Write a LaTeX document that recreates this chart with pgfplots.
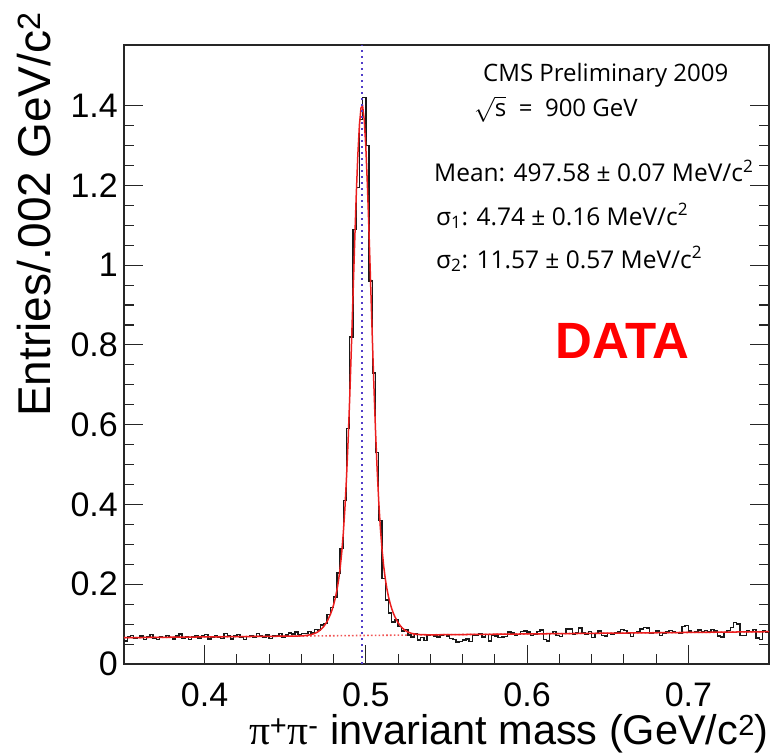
\documentclass[border=0pt]{standalone}
\usepackage{fontspec}
\setmainfont{Liberation Sans}
\newfontfamily\myriad{Open Sans}
\newfontfamily\symb{Liberation Serif}
\usepackage{pgfplots}
\pgfplotsset{compat=1.18}

\definecolor{fitred}{RGB}{235,30,30}
\definecolor{meanblue}{RGB}{80,60,200}

\begin{document}
\begin{tikzpicture}
\begin{axis}[
  scale only axis, width=645pt, height=619pt,
  xmin=0.35, xmax=0.75, ymin=0, ymax=1.552,
  xtick={0.4,0.5,0.6,0.7},
  ytick={0,0.2,0.4,0.6,0.8,1,1.2,1.4},
  minor x tick num=4, minor y tick num=3,
  tick align=inside,
  xtick pos=bottom, ytick pos=both, yticklabel pos=left,
  major tick length=19pt, minor tick length=10pt,
  axis line style={line width=1.1pt, black!85},
  every tick/.style={line width=1.1pt, black!85},
  /pgf/number format/assume math mode=true,
  tick label style={font=\fontsize{34}{40}\selectfont},
  xticklabel style={inner sep=0pt, yshift=-19pt},
  yticklabel style={inner sep=0pt, xshift=-6pt},
  xlabel={{\symb π}\textsuperscript{+}{\symb π}\textsuperscript{-} invariant mass (GeV/c\textsuperscript{2})},
  every axis x label/.style={at={(axis description cs:1,-0.1300)}, anchor=base east,
    inner sep=0pt, font=\fontsize{41.5}{48}\selectfont},
  ylabel={Entries/.002 GeV/c\textsuperscript{2}},
  every axis y label/.style={at={(axis description cs:-0.1147,1.053)}, rotate=90,
    anchor=base east, inner sep=0pt, font=\fontsize{46}{54}\selectfont},
  clip=true,
]
% background component of the fit
\addplot[fitred!75, line width=1.6pt, dash pattern=on 1.6pt off 2.2pt]
  coordinates {(0.35,0.066) (0.75,0.081)};

% data histogram, 2 MeV bins (left edges)
\addplot[const plot mark left, black!90, line width=1.4pt] coordinates {
(0.350,0.058) (0.352,0.069) (0.354,0.072) (0.356,0.064) (0.358,0.066)
(0.360,0.070) (0.362,0.062) (0.364,0.068) (0.366,0.074) (0.368,0.064)
(0.370,0.061) (0.372,0.069) (0.374,0.067) (0.376,0.072) (0.378,0.066)
(0.380,0.063) (0.382,0.070) (0.384,0.075) (0.386,0.065) (0.388,0.069)
(0.390,0.061) (0.392,0.068) (0.394,0.072) (0.396,0.065) (0.398,0.070)
(0.400,0.074) (0.402,0.063) (0.404,0.067) (0.406,0.071) (0.408,0.068)
(0.410,0.064) (0.412,0.077) (0.414,0.070) (0.416,0.063) (0.418,0.070)
(0.420,0.074) (0.422,0.067) (0.424,0.061) (0.426,0.069) (0.428,0.072)
(0.430,0.066) (0.432,0.076) (0.434,0.070) (0.436,0.068) (0.438,0.073)
(0.440,0.064) (0.442,0.070) (0.444,0.072) (0.446,0.076) (0.448,0.068)
(0.450,0.073) (0.452,0.078) (0.454,0.075) (0.456,0.080) (0.458,0.074)
(0.460,0.077) (0.462,0.077) (0.464,0.081) (0.466,0.078) (0.468,0.087)
(0.470,0.085) (0.472,0.098) (0.474,0.102) (0.476,0.124) (0.478,0.142)
(0.480,0.168) (0.482,0.228) (0.484,0.290) (0.486,0.410) (0.488,0.590)
(0.490,0.820) (0.492,1.090) (0.494,1.195) (0.496,1.365) (0.498,1.420)
(0.500,1.300) (0.502,0.960) (0.504,0.730) (0.506,0.530) (0.508,0.360)
(0.510,0.215) (0.512,0.160) (0.514,0.128) (0.516,0.105) (0.518,0.112)
(0.520,0.094) (0.522,0.083) (0.524,0.086) (0.526,0.073) (0.528,0.068)
(0.530,0.075) (0.532,0.060) (0.534,0.066) (0.536,0.059) (0.538,0.072)
(0.540,0.074) (0.542,0.070) (0.544,0.068) (0.546,0.072) (0.548,0.074)
(0.550,0.070) (0.552,0.064) (0.554,0.062) (0.556,0.055) (0.558,0.056)
(0.560,0.060) (0.562,0.063) (0.564,0.057) (0.566,0.073) (0.568,0.072)
(0.570,0.075) (0.572,0.068) (0.574,0.074) (0.576,0.058) (0.578,0.072)
(0.580,0.070) (0.582,0.066) (0.584,0.068) (0.586,0.069) (0.588,0.080)
(0.590,0.078) (0.592,0.071) (0.594,0.074) (0.596,0.082) (0.598,0.083)
(0.600,0.080) (0.602,0.072) (0.604,0.074) (0.606,0.082) (0.608,0.085)
(0.610,0.062) (0.612,0.058) (0.614,0.076) (0.616,0.081) (0.618,0.072)
(0.620,0.069) (0.622,0.077) (0.624,0.088) (0.626,0.088) (0.628,0.074)
(0.630,0.079) (0.632,0.090) (0.634,0.078) (0.636,0.074) (0.638,0.082)
(0.640,0.066) (0.642,0.076) (0.644,0.083) (0.646,0.072) (0.648,0.070)
(0.650,0.076) (0.652,0.074) (0.654,0.078) (0.656,0.080) (0.658,0.086)
(0.660,0.084) (0.662,0.078) (0.664,0.069) (0.666,0.079) (0.668,0.081)
(0.670,0.088) (0.672,0.092) (0.674,0.090) (0.676,0.078) (0.678,0.079)
(0.680,0.083) (0.682,0.072) (0.684,0.078) (0.686,0.080) (0.688,0.084)
(0.690,0.080) (0.692,0.079) (0.694,0.076) (0.696,0.094) (0.698,0.097)
(0.700,0.083) (0.702,0.079) (0.704,0.082) (0.706,0.085) (0.708,0.080)
(0.710,0.084) (0.712,0.081) (0.714,0.087) (0.716,0.083) (0.718,0.070)
(0.720,0.068) (0.722,0.079) (0.724,0.084) (0.726,0.092) (0.728,0.104)
(0.730,0.100) (0.732,0.072) (0.734,0.071) (0.736,0.083) (0.738,0.082)
(0.740,0.086) (0.742,0.065) (0.744,0.062) (0.746,0.083) (0.748,0.080)
(0.750,0.080)
};

% double gaussian + linear background fit
\addplot[fitred, line width=1.5pt] coordinates {
(0.350,0.066) (0.400,0.0679) (0.450,0.0698) (0.458,0.0702) (0.460,0.0706)
(0.462,0.0712) (0.464,0.0722) (0.466,0.0738) (0.468,0.0762) (0.470,0.080)
(0.472,0.086) (0.474,0.0947) (0.476,0.1069) (0.478,0.1243) (0.479,0.1355)
(0.480,0.1486) (0.481,0.1645) (0.482,0.184) (0.483,0.2083) (0.484,0.239)
(0.485,0.2782) (0.486,0.328) (0.487,0.3907) (0.488,0.4684) (0.489,0.5618)
(0.490,0.6705) (0.491,0.7918) (0.492,0.9209) (0.493,1.0506) (0.494,1.1721)
(0.495,1.2755) (0.496,1.3521) (0.497,1.3948) (0.498,1.3984) (0.499,1.3636)
(0.500,1.2936) (0.501,1.1947) (0.502,1.0763) (0.503,0.9474) (0.504,0.8178)
(0.505,0.6944) (0.506,0.5829) (0.507,0.4864) (0.508,0.4058) (0.509,0.3403)
(0.510,0.2881) (0.511,0.247) (0.512,0.2149) (0.513,0.1895) (0.514,0.1693)
(0.515,0.1528) (0.516,0.1392) (0.517,0.1278) (0.518,0.1183) (0.520,0.1032)
(0.522,0.0926) (0.524,0.0852) (0.526,0.0803) (0.528,0.0772) (0.530,0.0754)
(0.532,0.0743) (0.534,0.0737) (0.540,0.0731) (0.600,0.0754) (0.650,0.0773)
(0.700,0.0791) (0.750,0.081)
};

% fitted mean
\addplot[meanblue, line width=2.6pt, dash pattern=on 2.4pt off 3.6pt]
  coordinates {(0.49758,0) (0.49758,1.552)};

\node[anchor=base west, inner sep=0pt, font=\myriad\fontsize{24}{28}\selectfont]
  at (axis description cs:0.5566,0.941) {CMS Preliminary 2009};
\node[anchor=base west, inner sep=0pt, font=\myriad\fontsize{24}{28}\selectfont]
  at (axis description cs:0.5426,0.8837) {\(\sqrt{\mbox{s}}\)\ \ =\ \ 900 GeV};
\node[anchor=base west, inner sep=0pt, font=\myriad\fontsize{24.5}{28}\selectfont]
  at (axis description cs:0.4806,0.7787) {Mean: 497.58 ± 0.07 MeV/c\textsuperscript{2}};
\node[anchor=base west, inner sep=0pt, font=\myriad\fontsize{24.5}{28}\selectfont]
  at (axis description cs:0.4837,0.7092) {σ\textsubscript{1}: 4.74 ± 0.16 MeV/c\textsuperscript{2}};
\node[anchor=base west, inner sep=0pt, font=\myriad\fontsize{24.5}{28}\selectfont]
  at (axis description cs:0.4837,0.6397) {σ\textsubscript{2}: 11.57 ± 0.57 MeV/c\textsuperscript{2}};
\node[anchor=base west, inner sep=0pt, font=\bfseries\fontsize{51}{60}\selectfont, text=red]
  at (axis description cs:0.6682,0.4943) {DATA};
\node[anchor=base west, inner sep=0pt, font=\fontsize{33}{40}\selectfont]
  at (axis description cs:0.0015,1.013) {×10\textsuperscript{3}};
\end{axis}
\pgfresetboundingbox
\path[use as bounding box] ([xshift=-124pt,yshift=-90pt]current axis.south west)
  rectangle ([xshift=5pt,yshift=45pt]current axis.north east);
\end{tikzpicture}
\end{document}
